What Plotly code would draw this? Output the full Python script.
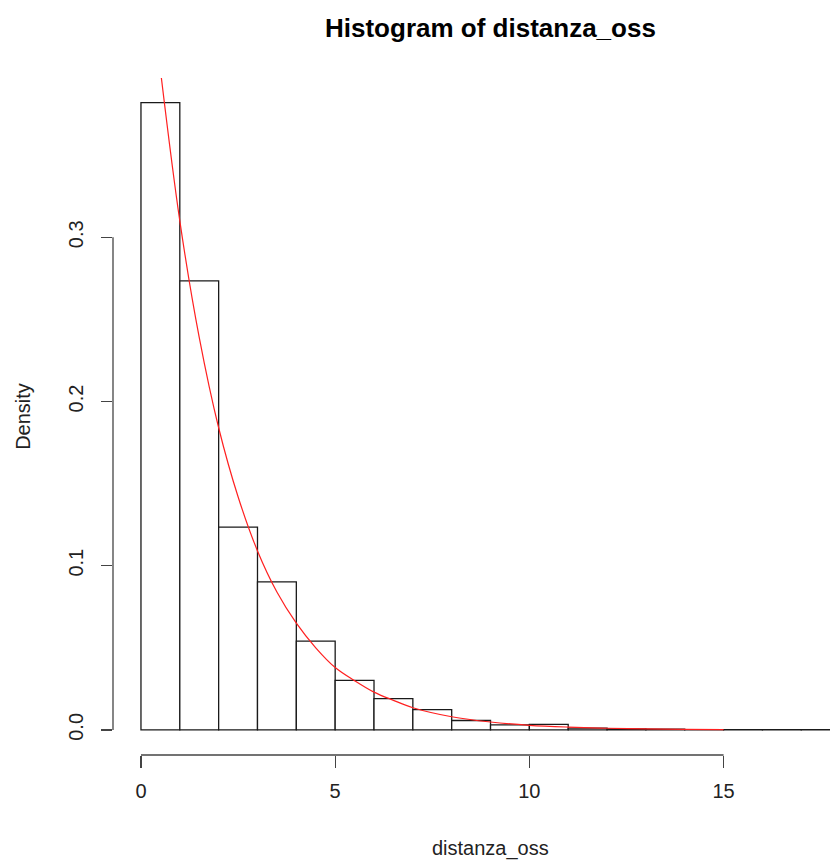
import plotly.graph_objects as go

# ---- data ----
bin_left = [0, 1, 2, 3, 4, 5, 6, 7, 8, 9, 10, 11, 12, 13, 14, 15, 16, 17]
density = [0.382, 0.2735, 0.1235, 0.0901, 0.054, 0.0302, 0.019, 0.0123,
           0.0057, 0.0031, 0.0033, 0.0011, 0.0006, 0.0004, 0.0002, 0.0001, 0.0001, 0.0001]

curve_x = [0.5, 1, 1.5, 2, 2.5, 3, 3.5, 4, 4.5, 5, 5.5, 6, 6.5, 7, 8, 9, 10, 11, 12, 13, 14, 15]
curve_y = [0.402, 0.310, 0.239, 0.184, 0.142, 0.109, 0.084, 0.065, 0.050, 0.038, 0.030,
           0.023, 0.018, 0.0135, 0.008, 0.0048, 0.0028, 0.0017, 0.0010, 0.0006, 0.0003, 0.0002]

x_ticks = [0, 5, 10, 15]
y_ticks = [0.0, 0.1, 0.2, 0.3]
y_tick_text = ["0.0", "0.1", "0.2", "0.3"]

title = "Histogram of distanza_oss"
x_title = "distanza_oss"
y_title = "Density"

# ---- layout geometry ----
W, H = 830, 864
ML, MR, MT, MB = 112.7, 0, 78, 109
x_range = [-0.72, 17.74]
y_range = [-0.0153, 0.397]
FONT = "Liberation Sans, Arial, sans-serif"

bin_w = 1
centers = [b + bin_w / 2 for b in bin_left]

fig = go.Figure()
fig.add_trace(go.Bar(
    x=centers, y=density, width=[bin_w] * len(centers),
    marker=dict(color="white", line=dict(color="#1a1a1a", width=1.3)),
    hoverinfo="skip", showlegend=False,
))
fig.add_trace(go.Scatter(
    x=curve_x, y=curve_y, mode="lines", line=dict(color="#ff2020", width=1.2, shape="spline"),
    hoverinfo="skip", showlegend=False,
))


def px(v):
    return (v - x_range[0]) / (x_range[1] - x_range[0])


def py(v):
    return (v - y_range[0]) / (y_range[1] - y_range[0])


axis_col = "#444444"
shapes = [
    dict(type="line", xref="paper", yref="paper", x0=px(x_ticks[0]), x1=px(x_ticks[-1]), y0=0, y1=0,
         line=dict(color=axis_col, width=1.3)),
    dict(type="line", xref="paper", yref="paper", x0=0, x1=0, y0=py(y_ticks[0]), y1=py(y_ticks[-1]),
         line=dict(color=axis_col, width=1.3)),
]

PH = H - MT - MB
PW = W - ML - MR

fig.update_layout(
    width=W, height=H,
    margin=dict(l=ML, r=MR, t=MT, b=MB, pad=0),
    paper_bgcolor="white", plot_bgcolor="white",
    bargap=0,
    font=dict(family=FONT, size=20, color="#222222"),
    shapes=shapes,
    xaxis=dict(range=x_range, showgrid=False, zeroline=False, showline=False,
               tickvals=x_ticks, ticks="outside", ticklen=12, tickwidth=1.3, tickcolor=axis_col,
               tickfont=dict(size=20, color="#222222"), ticklabelstandoff=6),
    yaxis=dict(range=y_range, showgrid=False, zeroline=False, showline=False,
               tickvals=y_ticks, ticktext=y_tick_text, ticks="outside", ticklen=11,
               tickwidth=1.3, tickcolor=axis_col, tickangle=-90,
               tickfont=dict(size=20, color="#222222"), ticklabelstandoff=10),
    annotations=[
        dict(text="<b>" + title + "</b>", xref="x", yref="paper", x=9, y=1 + (MT - 28) / PH,
             showarrow=False, xanchor="center", yanchor="middle",
             font=dict(family=FONT, size=26, color="#000000")),
        dict(text=x_title, xref="x", yref="paper", x=9, y=-(848 - (H - MB)) / PH,
             showarrow=False, xanchor="center", yanchor="middle",
             font=dict(family=FONT, size=20, color="#222222")),
        dict(text=y_title, xref="paper", yref="paper", x=-(ML - 22) / PW, y=0.5,
             showarrow=False, xanchor="center", yanchor="middle", textangle=-90,
             font=dict(family=FONT, size=20, color="#222222")),
    ],
)

fig.write_html("out.html",
               config={"displayModeBar": False, "staticPlot": True},
               post_script="document.body.style.margin='0';document.body.style.overflow='hidden';")
